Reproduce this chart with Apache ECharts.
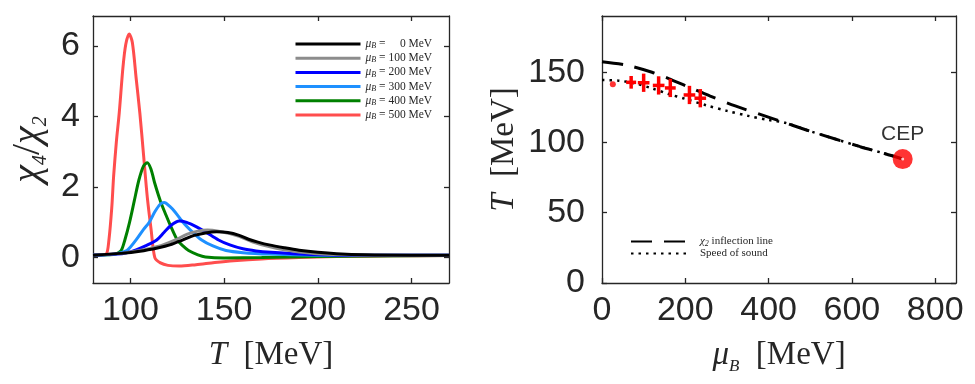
<!DOCTYPE html>
<html>
<head>
<meta charset="utf-8">
<script src="https://cdn.jsdelivr.net/npm/echarts@6/dist/echarts.min.js"></script>
<style>
  html, body { margin: 0; background: #fff; }
  #chart { width: 975px; height: 384px; }
</style>
</head>
<body>
<div id="chart"></div>
<script>
// left panel: chi4/chi2 against T for several mu_B
const muList = [0, 100, 200, 300, 400, 500]
const curveColors = ['#000000', '#8c8c8c', '#0000ff', '#1e90ff', '#008000', '#ff4d4d']

const tMu0 = [80, 95, 105, 115, 121, 128, 134, 140, 146, 152, 158, 163, 168, 174, 182, 190, 200, 210, 225, 250, 270]
const chiMu0 = [0.07, 0.12, 0.18, 0.28, 0.36, 0.5, 0.63, 0.7, 0.73, 0.71, 0.63, 0.52, 0.44, 0.36, 0.28, 0.21, 0.15, 0.11, 0.08, 0.07, 0.07]

const tMu100 = [80, 95, 105, 112, 117, 124, 130, 136, 141, 147, 153, 158, 165, 174, 182, 190, 200, 215, 240, 270]
const chiMu100 = [0.07, 0.12, 0.2, 0.28, 0.35, 0.5, 0.66, 0.75, 0.78, 0.75, 0.68, 0.6, 0.45, 0.31, 0.22, 0.16, 0.11, 0.08, 0.07, 0.07]

const tMu200 = [80, 93, 98, 103, 108, 114, 118, 122, 126, 130, 135, 140, 147, 153, 160, 167, 175, 190, 210, 270]
const chiMu200 = [0.07, 0.1, 0.14, 0.22, 0.33, 0.5, 0.72, 0.93, 1.04, 1.0, 0.88, 0.73, 0.5, 0.36, 0.25, 0.19, 0.15, 0.1, 0.07, 0.07]

const tMu300 = [80, 92, 98, 100, 103, 107, 110, 113, 116, 118, 121, 124, 128, 132, 138, 144, 151, 160, 174, 200, 270]
const chiMu300 = [0.07, 0.1, 0.2, 0.3, 0.5, 0.8, 1.0, 1.3, 1.52, 1.56, 1.45, 1.28, 1.0, 0.78, 0.5, 0.33, 0.2, 0.14, 0.1, 0.07, 0.07]

const tMu400 = [80, 88, 92, 95, 97, 99.5, 102, 104.5, 107, 109, 111, 113, 116, 119, 121, 125, 128, 131, 136, 140, 150, 170, 200, 270]
const chiMu400 = [0.07, 0.08, 0.1, 0.2, 0.5, 1.0, 1.6, 2.2, 2.6, 2.69, 2.5, 2.1, 1.6, 1.2, 0.95, 0.5, 0.33, 0.2, 0.08, 0.02, -0.01, 0.0, 0.03, 0.06]

const tMu500 = [80, 84, 87, 88.5, 90, 91, 92.5, 94, 96, 97.5, 99.3, 101, 103, 105, 107, 109, 111, 113, 116, 120, 126, 135, 145, 155, 170, 190, 210, 240, 270]
const chiMu500 = [0.07, 0.07, 0.09, 0.5, 1.4, 2.3, 3.3, 4.1, 5.4, 6.05, 6.34, 6.1, 5.1, 4.1, 2.9, 1.7, 0.8, 0.0, -0.15, -0.22, -0.24, -0.2, -0.14, -0.09, -0.04, 0.0, 0.03, 0.05, 0.06]

const tLists = [tMu0, tMu100, tMu200, tMu300, tMu400, tMu500]
const chiLists = [chiMu0, chiMu100, chiMu200, chiMu300, chiMu400, chiMu500]

// right panel: phase diagram
const muInflection = [0, 60, 120, 160, 200, 260, 320, 380, 440, 500, 560, 620, 680, 722]
const tInflection = [157.5, 155, 150, 145.5, 140.5, 133, 126, 120, 114, 108, 102.5, 97, 92, 88.2]

const muSound = [0, 40, 80, 120, 160, 200, 250, 300, 350, 400, 440, 500, 560, 620, 680, 722]
const tSound = [144.5, 144, 142, 138.5, 134.5, 131, 126.5, 122.5, 119, 116, 114, 108, 102.5, 97, 92, 88.2]

const muLattice = [70, 100, 136, 164, 210, 236]
const tLattice = [142.8, 142.5, 140.6, 138.8, 133.8, 131.5]
const muLatticeErr = [12, 14, 14, 13, 14, 14]
const tLatticeErr = [4.5, 6.5, 6.5, 6.5, 6.5, 6.5]

const dotPoint = [26, 141.4]
const cepPoint = [722, 88.2]

const leftXTicks = [100, 150, 200, 250]
const leftYTicks = [0, 2, 4, 6]
const rightXTicks = [0, 200, 400, 600, 800]
const rightYTicks = [0, 50, 100, 150]

const ink = '#262626'
const numFont = 'Liberation Sans'
const serif = 'Liberation Serif'

// rich styles for math-like names: main glyphs, subscripts
function mathRich(size, subSize, lh, subLh) {
  return {
    i: { fontFamily: serif, fontStyle: 'italic', fontSize: size, lineHeight: lh, color: ink },
    t: { fontFamily: serif, fontSize: size, lineHeight: lh, color: ink },
    s: { fontFamily: serif, fontStyle: 'italic', fontSize: subSize, lineHeight: subLh, verticalAlign: 'bottom', color: ink },
  }
}

function axisCfg(grid, position, min, max, ticks, labels, margin, extra) {
  return Object.assign({
    type: 'value', gridIndex: grid, position: position, min: min, max: max,
    axisLine: { show: true, onZero: false, lineStyle: { color: ink, width: 1.3 } },
    axisTick: { inside: true, length: 5, customValues: ticks, lineStyle: { color: ink, width: 1.3 } },
    axisLabel: { show: labels, customValues: ticks, color: ink, fontFamily: numFont, fontSize: 34, margin: margin },
    splitLine: { show: false },
  }, extra || {})
}

const xAxes = [
  axisCfg(0, 'bottom', 80, 270, leftXTicks, true, 11, {
    name: '{i|T}{t|  [MeV]}', nameLocation: 'middle', nameGap: 52,
    nameTextStyle: { rich: mathRich(33, 17, 40, 10) },
  }),
  axisCfg(0, 'top', 80, 270, leftXTicks, false, 11),
  axisCfg(1, 'bottom', 0, 850, rightXTicks, true, 11, {
    name: '{i|μ}{s|B}{t|  [MeV]}', nameLocation: 'middle', nameGap: 52,
    nameTextStyle: { rich: mathRich(33, 17, 40, 10) },
  }),
  axisCfg(1, 'top', 0, 850, rightXTicks, false, 11),
]

const yAxes = [
  axisCfg(0, 'left', -0.72, 6.85, leftYTicks, true, 13, {
    name: '{i|χ}{s|4}{t|/}{i|χ}{s|2}', nameLocation: 'middle', nameGap: 42,
    nameTextStyle: { rich: mathRich(40, 20, 46, 10) },
  }),
  axisCfg(0, 'right', -0.72, 6.85, leftYTicks, false, 13),
  axisCfg(1, 'left', 0, 190, rightYTicks, true, 17, {
    name: '{i|T}{t|  [MeV]}', nameLocation: 'middle', nameGap: 78,
    nameTextStyle: { rich: mathRich(33, 17, 40, 10) },
  }),
  axisCfg(1, 'right', 0, 190, rightYTicks, false, 17),
]

const curveSeries = muList.map((mu, k) => ({
  name: 'mu' + mu,
  type: 'line',
  xAxisIndex: 0, yAxisIndex: 0,
  data: tLists[k].map((t, j) => [t, chiLists[k][j]]),
  smooth: 0.3,
  symbol: 'none',
  lineStyle: { color: curveColors[k], width: 3 },
  itemStyle: { color: curveColors[k] },
  z: 2 + (5 - k),
}))

const rightSeries = [
  {
    name: 'inflection', type: 'line', xAxisIndex: 2, yAxisIndex: 2,
    data: muInflection.map((m, j) => [m, tInflection[j]]),
    smooth: 0.3, symbol: 'none',
    lineStyle: { color: '#000', width: 3, type: [21, 12] },
    itemStyle: { color: '#000' },
  },
  {
    name: 'sound', type: 'line', xAxisIndex: 2, yAxisIndex: 2,
    data: muSound.map((m, j) => [m, tSound[j]]),
    smooth: 0.3, symbol: 'none',
    lineStyle: { color: '#000', width: 2.5, type: [2.5, 5] },
    itemStyle: { color: '#000' },
  },
  {
    type: 'custom', xAxisIndex: 2, yAxisIndex: 2,
    data: muLattice.map((m, j) => [m, tLattice[j], muLatticeErr[j], tLatticeErr[j]]),
    encode: { x: 0, y: 1 },
    renderItem: function (params, api) {
      const x = api.value(0), y = api.value(1), ex = api.value(2), ey = api.value(3)
      const l = api.coord([x - ex, y]), r = api.coord([x + ex, y])
      const b = api.coord([x, y - ey]), t = api.coord([x, y + ey])
      const st = { stroke: '#ff0000', lineWidth: 3.5 }
      return {
        type: 'group',
        children: [
          { type: 'line', shape: { x1: l[0], y1: l[1], x2: r[0], y2: r[1] }, style: st },
          { type: 'line', shape: { x1: b[0], y1: b[1], x2: t[0], y2: t[1] }, style: st },
        ],
      }
    },
    z: 5,
  },
  {
    type: 'scatter', xAxisIndex: 2, yAxisIndex: 2,
    data: [dotPoint], symbolSize: 6, itemStyle: { color: '#ff0000' }, z: 5,
  },
  {
    type: 'scatter', xAxisIndex: 2, yAxisIndex: 2, z: 6,
    data: [
      {
        value: cepPoint, symbolSize: 20, itemStyle: { color: '#ff0000' },
        label: { show: true, formatter: 'CEP', position: 'top', distance: 4, fontFamily: numFont, fontSize: 21, color: '#000' },
      },
      { value: cepPoint, symbolSize: 3, itemStyle: { color: '#ffffff' } },
    ],
  },
]

// pad the mu value with figure spaces so the numbers line up on the right
const padMu = s => '\u2007'.repeat(3 - s.length) + s

const chart = echarts.init(document.getElementById('chart'))
chart.setOption({
  backgroundColor: '#fff',
  animation: false,
  grid: [
    { left: 93, top: 16, width: 356, height: 267 },
    { left: 602, top: 16, width: 354, height: 267 },
  ],
  xAxis: xAxes,
  yAxis: yAxes,
  legend: [
    {
      data: muList.map(m => 'mu' + m),
      orient: 'vertical', left: 294, top: 38, padding: 0,
      itemWidth: 65, itemHeight: 10, itemGap: 2.2,
      selectedMode: false,
      itemStyle: { opacity: 0 },
      lineStyle: { width: 3 },
      formatter: name => '{i|μ}{s|B}{t| = ' + padMu(name.slice(2)) + ' MeV}',
      textStyle: { rich: mathRich(11.5, 8, 12, 6) },
    },
    {
      data: ['inflection', 'sound'],
      orient: 'vertical', left: 630, top: 236, padding: 0,
      itemWidth: 57, itemHeight: 10, itemGap: 0.6,
      selectedMode: false,
      itemStyle: { opacity: 0 },
      formatter: name => name === 'inflection'
        ? '{i|χ}{s|2}{t| inflection line}'
        : '{t|Speed of sound}',
      textStyle: { rich: mathRich(11, 8, 12, 6), padding: [0, 0, 0, 7] },
    },
  ],
  series: curveSeries.concat(rightSeries),
})
</script>
</body>
</html>
